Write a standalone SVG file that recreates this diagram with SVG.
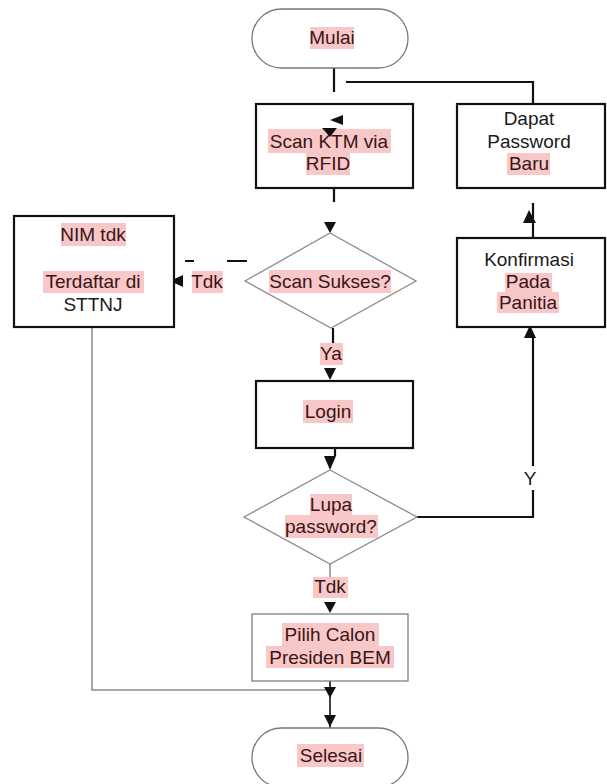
<svg xmlns="http://www.w3.org/2000/svg" width="607" height="784" viewBox="0 0 607 784">
<style>
.bg{fill:#ffffff}
.term{fill:#ffffff;stroke:#777777;stroke-width:1.3}
.box{fill:#ffffff;stroke:#111111;stroke-width:2.2}
.thin{fill:#ffffff;stroke:#808080;stroke-width:1.3}
.dia{fill:#ffffff;stroke:#8a8a8a;stroke-width:1.3}
.hl{fill:#f8c7c7}
text{font-family:"Liberation Sans",Arial,sans-serif;font-size:19px;text-anchor:middle;fill:#1a1a1a}
text.h{fill:#3a1515}
.ln{fill:none;stroke:#111111;stroke-width:2.2}
.lg{fill:none;stroke:#8a8a8a;stroke-width:1.5}
.ah{fill:#111111}
</style>
<rect class="bg" x="0" y="0" width="607" height="784"/>
<g id="connectors">
<path class="ln" d="M334 68V92"/>
<path class="ln" d="M346 82H533V104"/>
<path class="ln" d="M334 188V202"/>
<path class="ln" d="M185 261H194M227 261H247"/>
<path class="ln" d="M333 328V343"/>
<path class="ln" d="M335 448V456"/>
<path class="ln" d="M417 517H533V490M533 466V338"/>
<path class="ln" d="M533 238V203"/>
<path class="lg" d="M330 564V577"/>
<path class="ln" d="M330 681V728" style="stroke-width:1.6"/>
<path class="lg" d="M92 327V690H330"/>
<polygon class="ah" points="324,222 336,222 330,233"/>
<polygon class="ah" points="183,275 183,287 170,281"/>
<polygon class="ah" points="324,368 336,368 330,380"/>
<polygon class="ah" points="324,456 336,456 330,470"/>
<polygon class="ah" points="524,338 536,338 530,325"/>
<polygon class="ah" points="523,223 536,223 529,210"/>
<polygon class="ah" points="324,602 336,602 330,613"/>
<polygon class="ah" points="324,687 336,687 330,698"/>
<polygon class="ah" points="324,715 336,715 330,727"/>
</g>
<g id="mulai">
<rect class="term" x="252" y="9" width="156" height="59" rx="29.5"/>
<rect class="hl" x="310" y="27" width="44" height="22"/>
<text class="h" x="332" y="44">Mulai</text>
</g>
<g id="scan-ktm">
<rect class="box" x="256" y="104" width="157" height="84"/>
<rect class="hl" x="268" y="129" width="123" height="24"/>
<rect class="hl" x="306" y="153" width="44" height="22"/>
<text class="h" x="329" y="148">Scan KTM via</text>
<text class="h" x="328" y="170">RFID</text>
<polygon class="ah" points="343,115 343,125 330,120"/>
<polygon class="ah" points="322,128 337,128 330,137"/>
</g>
<g id="dapat-password">
<rect class="box" x="457" y="104" width="148" height="84"/>
<rect class="hl" x="507" y="153" width="43" height="22"/>
<text x="529" y="125">Dapat</text>
<text x="529" y="148">Password</text>
<text class="h" x="529" y="170">Baru</text>
</g>
<g id="nim-tdk">
<rect class="box" x="14" y="216" width="160" height="111"/>
<rect class="hl" x="61" y="223" width="65" height="23"/>
<rect class="hl" x="43" y="271" width="101" height="22"/>
<text class="h" x="93" y="241">NIM tdk</text>
<text class="h" x="93" y="288">Terdaftar di</text>
<text x="93" y="311">STTNJ</text>
</g>
<g id="label-tdk-1">
<rect class="hl" x="192" y="271" width="31" height="22"/>
<text class="h" x="207" y="288">Tdk</text>
</g>
<g id="scan-sukses">
<polygon class="dia" points="330,233 416,281 331,328 245,281"/>
<rect class="hl" x="269" y="270" width="122" height="23"/>
<text class="h" x="330" y="288">Scan Sukses?</text>
</g>
<g id="label-ya">
<rect class="hl" x="320" y="343" width="23" height="22"/>
<text class="h" x="331" y="360">Ya</text>
</g>
<g id="konfirmasi">
<rect class="box" x="457" y="238" width="148" height="89"/>
<rect class="hl" x="505" y="273" width="47" height="19"/>
<rect class="hl" x="497" y="292" width="62" height="21"/>
<text x="529" y="266">Konfirmasi</text>
<text class="h" x="528" y="288">Pada</text>
<text class="h" x="528" y="309">Panitia</text>
</g>
<g id="login">
<rect class="box" x="256" y="381" width="157" height="67"/>
<rect class="hl" x="303" y="400" width="50" height="23"/>
<text class="h" x="328" y="418">Login</text>
</g>
<g id="lupa-password">
<polygon class="dia" points="330,470 417,517 330,564 244,517"/>
<rect class="hl" x="310" y="494" width="42" height="21"/>
<rect class="hl" x="285" y="515" width="93" height="23"/>
<text class="h" x="331" y="511">Lupa</text>
<text class="h" x="331" y="533">password?</text>
</g>
<g id="label-y">
<text x="530" y="485">Y</text>
</g>
<g id="label-tdk-2">
<rect class="hl" x="313" y="577" width="35" height="21"/>
<text class="h" x="330" y="593">Tdk</text>
</g>
<g id="pilih-calon">
<rect class="thin" x="252" y="614" width="156" height="67"/>
<rect class="hl" x="282" y="623" width="97" height="23"/>
<rect class="hl" x="266" y="646" width="128" height="22"/>
<text class="h" x="330" y="641">Pilih Calon</text>
<text class="h" x="330" y="664">Presiden BEM</text>
</g>
<g id="selesai">
<rect class="term" x="252" y="728" width="156" height="59" rx="29.5"/>
<rect class="hl" x="297" y="744" width="67" height="23"/>
<text class="h" x="331" y="762">Selesai</text>
</g>
</svg>
